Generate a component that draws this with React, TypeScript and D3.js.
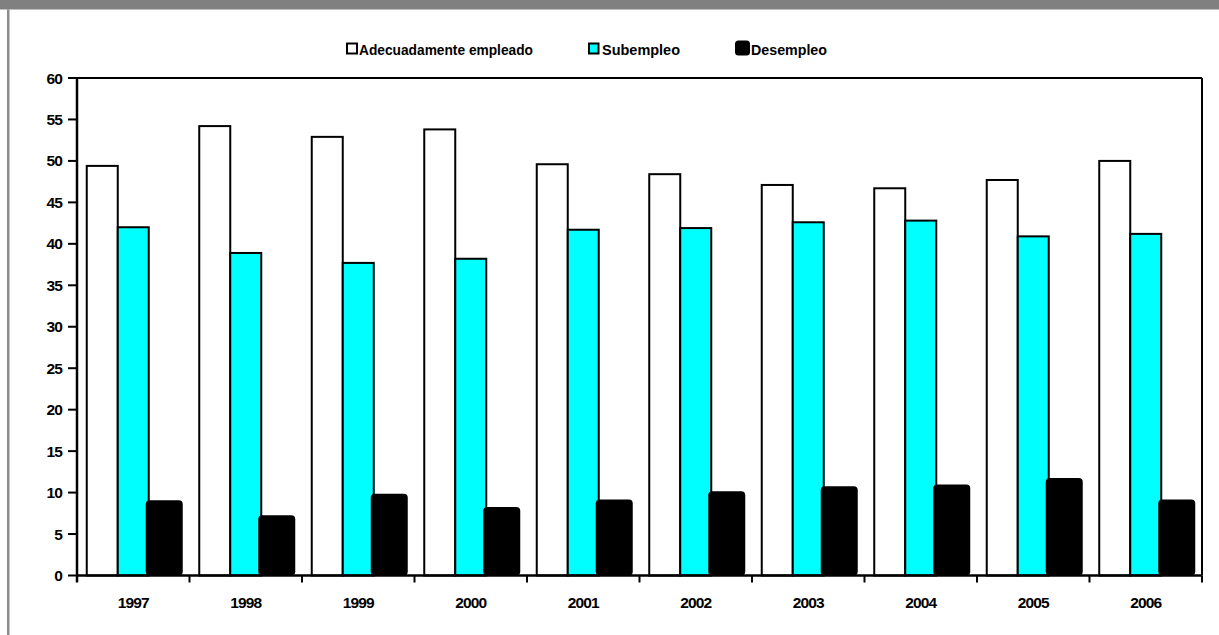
import React from "react";
import * as d3 from "d3";

const years = ["1997", "1998", "1999", "2000", "2001", "2002", "2003", "2004", "2005", "2006"];
const adecuado = [49.4, 54.2, 52.9, 53.8, 49.6, 48.4, 47.1, 46.7, 47.7, 50.0];
const subempleo = [42.0, 38.9, 37.7, 38.2, 41.7, 41.9, 42.6, 42.8, 40.9, 41.2];
const desempleo = [8.7, 6.9, 9.5, 7.9, 8.8, 9.8, 10.4, 10.6, 11.4, 8.8];
const yTicks = [0, 5, 10, 15, 20, 25, 30, 35, 40, 45, 50, 55, 60];
const seriesNames = ["Adecuadamente empleado", "Subempleo", "Desempleo"];
const seriesColors = ["#ffffff", "#00ffff", "#000000"];

const W = 1219;
const H = 635;
const left = 77;
const right = 1202;
const top = 78;
const bottom = 575.5;
const FONT = "'Liberation Sans', Arial, sans-serif";

export default function App() {
  const x0 = d3.scaleBand<string>().domain(years).range([left, right]).paddingInner(0.1733).paddingOuter(0.0867);
  const x1 = d3.scaleBand<string>().domain(seriesNames).range([0, x0.bandwidth()]).padding(0);
  const y = d3.scaleLinear().domain([0, 60]).range([bottom, top]);
  const series = [adecuado, subempleo, desempleo];
  const bw = x1.bandwidth();

  return (
    <svg width={W} height={H} style={{ position: "absolute", left: 0, top: 0, background: "#fff" }} fontFamily={FONT}>
      <rect x={0} y={0} width={W} height={H} fill="#fff" />
      <rect x={0} y={0} width={W} height={9.5} fill="#808080" />
      <rect x={7} y={9.5} width={2.5} height={H - 9.5} fill="#8c8c8c" />

      {/* plot border top/right */}
      <line x1={left} x2={right} y1={top} y2={top} stroke="#000" strokeWidth={2} />
      <line x1={right} x2={right} y1={top} y2={bottom} stroke="#000" strokeWidth={2} />

      {/* bars */}
      {years.map((yr, i) => (
        <g key={yr}>
          {series.map((vals, s) => {
            const bx = (x0(yr) as number) + (x1(seriesNames[s]) as number);
            const by = y(vals[i]);
            if (s === 2) {
              return (
                <rect key={s} x={bx - 3} y={by - 3} width={bw + 6} height={bottom - by + 3} rx={4} ry={4} fill="#000" />
              );
            }
            return (
              <rect key={s} x={bx} y={by} width={bw} height={bottom - by} fill={seriesColors[s]} stroke="#000" strokeWidth={2} />
            );
          })}
        </g>
      ))}

      {/* y axis */}
      <line x1={left} x2={left} y1={top - 1} y2={bottom + 7} stroke="#000" strokeWidth={2.5} />
      {yTicks.map((t) => (
        <g key={t}>
          <line x1={left - 9} x2={left} y1={y(t)} y2={y(t)} stroke="#000" strokeWidth={2} />
          <text x={62} y={y(t)} dy="0.36em" textAnchor="end" fontSize={15.5} fontWeight="bold" fill="#000" letterSpacing={-0.9}>
            {t}
          </text>
        </g>
      ))}

      {/* x axis */}
      <line x1={left} x2={right} y1={bottom} y2={bottom} stroke="#000" strokeWidth={2.5} />
      {years.map((yr, i) => {
        const step = x0.step();
        const tx = left + step * (i + 1);
        return <line key={"t" + yr} x1={tx} x2={tx} y1={bottom} y2={bottom + 7} stroke="#000" strokeWidth={2} />;
      })}
      {years.map((yr) => (
        <text key={"l" + yr} x={(x0(yr) as number) + x0.bandwidth() / 2} y={608} textAnchor="middle" fontSize={15.5} fontWeight="bold" fill="#000" letterSpacing={-0.9}>
          {yr}
        </text>
      ))}

      {/* legend */}
      <g>
        <rect x={347} y={43.5} width={10} height={10} fill="#fff" stroke="#000" strokeWidth={2} />
        <text x={359} y={54.5} fontSize={15.5} fontWeight="bold" textLength={174} lengthAdjust="spacingAndGlyphs">{seriesNames[0]}</text>
        <rect x={589} y={43.5} width={9.5} height={10} fill="#00ffff" stroke="#000" strokeWidth={2} />
        <text x={602} y={54.5} fontSize={15.5} fontWeight="bold" textLength={78} lengthAdjust="spacingAndGlyphs">{seriesNames[1]}</text>
        <rect x={735} y={40.5} width={15} height={15} rx={3.5} fill="#000" />
        <text x={751} y={54.5} fontSize={15.5} fontWeight="bold" textLength={76} lengthAdjust="spacingAndGlyphs">{seriesNames[2]}</text>
      </g>
    </svg>
  );
}
